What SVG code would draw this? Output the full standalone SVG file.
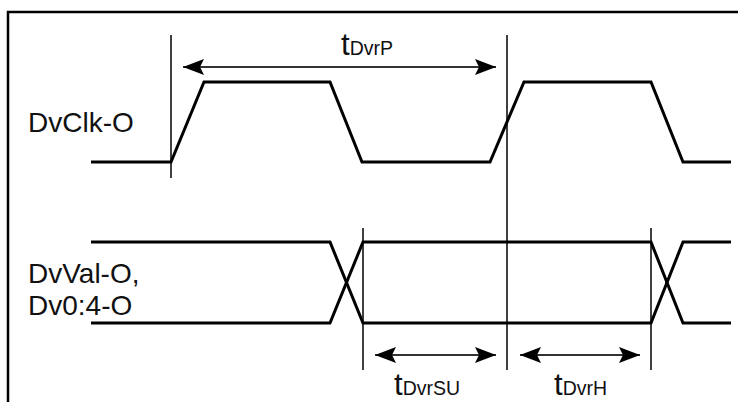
<svg xmlns="http://www.w3.org/2000/svg" width="738" height="402" viewBox="0 0 738 402">
  <defs>
    <style>
      .frame { fill: none; stroke: #000; stroke-width: 2.5; }
      .sig { fill: none; stroke: #000; stroke-width: 3; stroke-linejoin: miter; }
      .ref { fill: none; stroke: #111; stroke-width: 1.6; }
      .dim { fill: none; stroke: #333; stroke-width: 2; marker-start: url(#ah); marker-end: url(#ah); }
      .lbl { font-family: "Liberation Sans", Arial, sans-serif; font-size: 28px; fill: #111; }
      .t { font-family: "Liberation Sans", Arial, sans-serif; font-size: 31px; fill: #111; }
      .sub { font-size: 19.5px; }
    </style>
    <marker id="ah" markerUnits="userSpaceOnUse" markerWidth="24" markerHeight="20" viewBox="0 -10 24 20" refX="21" refY="0" orient="auto-start-reverse">
      <path d="M0,-8 L21,0 L0,8 L4,0 Z" fill="#000"/>
    </marker>
  </defs>

  <g id="frame">
    <path class="frame" d="M8,402 L8,12 L738,12"/>
  </g>

  <g id="reference-lines">
    <line class="ref" x1="171" y1="35" x2="171" y2="178"/>
    <line class="ref" x1="507" y1="35" x2="507" y2="370"/>
    <line class="ref" x1="363" y1="228" x2="363" y2="370"/>
    <line class="ref" x1="651" y1="228" x2="651" y2="370"/>
  </g>

  <g id="clk-signal">
    <text class="lbl" x="28" y="132">DvClk-O</text>
    <path class="sig" d="M91,162 L171,162 L204,82 L330,82 L362,162 L490,162 L524,82 L651,82 L683,162 L731,162"/>
  </g>

  <g id="data-signal">
    <text class="lbl" x="28" y="283">DvVal-O,</text>
    <text class="lbl" x="28" y="315">Dv0:4-O</text>
    <path class="sig" d="M91,242 L330,242 L363,323 L651,323 L683,242 L731,242"/>
    <path class="sig" d="M91,323 L330,323 L363,242 L651,242 L683,323 L731,323"/>
  </g>

  <g id="connectors">
    <line class="dim" x1="183" y1="67" x2="496" y2="67"/>
    <line class="dim" x1="375" y1="355" x2="496" y2="355"/>
    <line class="dim" x1="520" y1="355" x2="640" y2="355"/>
  </g>

  <g id="label-tDvrP">
    <text class="t" x="341" y="55">t<tspan class="sub">DvrP</tspan></text>
  </g>
  <g id="label-tDvrSU">
    <text class="t" x="394" y="395">t<tspan class="sub">DvrSU</tspan></text>
  </g>
  <g id="label-tDvrH">
    <text class="t" x="554" y="395">t<tspan class="sub">DvrH</tspan></text>
  </g>
</svg>
